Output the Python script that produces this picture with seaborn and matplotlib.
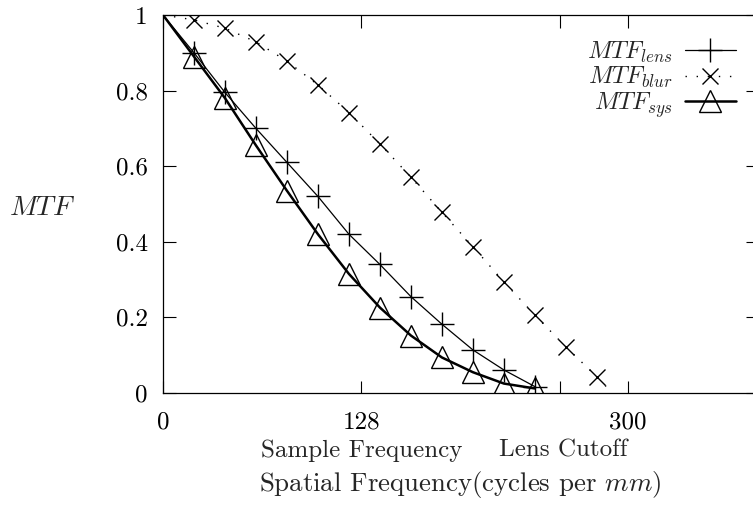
import numpy as np
import pandas as pd
import matplotlib
matplotlib.use("Agg")
import matplotlib.pyplot as plt
import seaborn as sns

# ---- data ----
freq = [20, 40, 60, 80, 100, 120, 140, 160, 180, 200, 220, 240]
mtf_lens = [0.90, 0.795, 0.70, 0.61, 0.52, 0.42, 0.34, 0.255, 0.182, 0.114, 0.061, 0.017]
mtf_sys = [0.89, 0.78, 0.655, 0.535, 0.42, 0.315, 0.226, 0.152, 0.094, 0.055, 0.025, 0.012]
blur_freq = [20, 40, 60, 80, 100, 120, 140, 160, 180, 200, 220, 240, 260, 280]
mtf_blur = [0.987, 0.965, 0.929, 0.878, 0.815, 0.742, 0.659, 0.571, 0.478, 0.387,
            0.294, 0.206, 0.122, 0.043]
start_freq, start_mtf = 0, 1.0
blur_end_freq, blur_end_mtf = 290, 0.0

xtick_vals = [0, 128, 256, 300]
xtick_labels = ["0", "128", "", "300"]
ytick_vals = [0, 0.2, 0.4, 0.6, 0.8, 1.0]
ytick_labels = ["0", "0.2", "0.4", "0.6", "0.8", "1"]
annot_text = ["Sample Frequency", "Lens Cutoff"]
annot_pos = [128, 258]
xlabel = r"Spatial Frequency(cycles per $mm$)"
ylabel = r"$MTF$"
labels = [r"$MTF_{lens}$", r"$MTF_{blur}$", r"$MTF_{sys}$"]

sns.set_style("ticks")
plt.rcParams["font.family"] = ["cmr10", "DejaVu Serif"]
plt.rcParams["mathtext.fontset"] = "cm"
plt.rcParams["axes.formatter.use_mathtext"] = True
plt.rcParams["axes.unicode_minus"] = False

FS = 18
fig = plt.figure(figsize=(7.53, 5.09), dpi=100)
ax = fig.add_axes([163 / 753, 116 / 509, 595 / 753, 378 / 509])

df_lens = pd.DataFrame({"f": [start_freq] + freq, "m": [start_mtf] + mtf_lens})
df_sys = pd.DataFrame({"f": [start_freq] + freq, "m": [start_mtf] + mtf_sys})
df_blur = pd.DataFrame({"f": [start_freq] + blur_freq + [blur_end_freq],
                        "m": [start_mtf] + mtf_blur + [blur_end_mtf]})

sns.lineplot(data=df_lens, x="f", y="m", ax=ax, color="k", lw=0.9,
             marker="+", markersize=17, markeredgewidth=1.0, markeredgecolor="k",
             markevery=list(range(1, len(df_lens))), label=labels[0])
sns.lineplot(data=df_blur, x="f", y="m", ax=ax, color="k", lw=1.0,
             linestyle=(0, (1, 7)),
             marker="x", markersize=12, markeredgewidth=1.0, markeredgecolor="k",
             markevery=list(range(1, len(df_blur) - 1)), label=labels[1])
sns.lineplot(data=df_sys, x="f", y="m", ax=ax, color="k", lw=1.8,
             marker="^", markersize=16, markeredgewidth=1.0, markeredgecolor="k",
             markerfacecolor="none",
             markevery=list(range(1, len(df_sys))), label=labels[2])

ax.set_xlim(0, 384)
ax.set_ylim(0, 1)
ax.set_xticks(xtick_vals)
ax.set_xticklabels(xtick_labels)
ax.set_yticks(ytick_vals)
ax.set_yticklabels(ytick_labels)
ax.set_xlabel("")
ax.set_ylabel("")
ax.tick_params(direction="in", length=9, width=0.8, top=True, right=True,
               labelsize=FS, colors="k")
ax.tick_params(axis="x", pad=13)
ax.tick_params(axis="y", pad=11)
for s in ax.spines.values():
    s.set_visible(True)
    s.set_linewidth(0.9)
    s.set_color("k")

for t, p in zip(annot_text, annot_pos):
    ax.text(p, -0.152, t, transform=ax.get_xaxis_transform(), ha="center",
            va="center", fontsize=FS)
ax.text(0.499, -0.243, xlabel, transform=ax.transAxes, ha="center", va="center",
        fontsize=19.3)
ax.text(-0.203, 0.49, ylabel, transform=ax.transAxes, ha="center", va="center",
        fontsize=20)

ax.legend(loc="upper right", bbox_to_anchor=(736 / 753, 1 - 40 / 509),
          bbox_transform=fig.transFigure, frameon=False, markerfirst=False,
          fontsize=17.5, handlelength=2.1, labelspacing=0.0, handletextpad=0.5,
          borderpad=0, borderaxespad=0)

fig.savefig("out.png", dpi=100)
